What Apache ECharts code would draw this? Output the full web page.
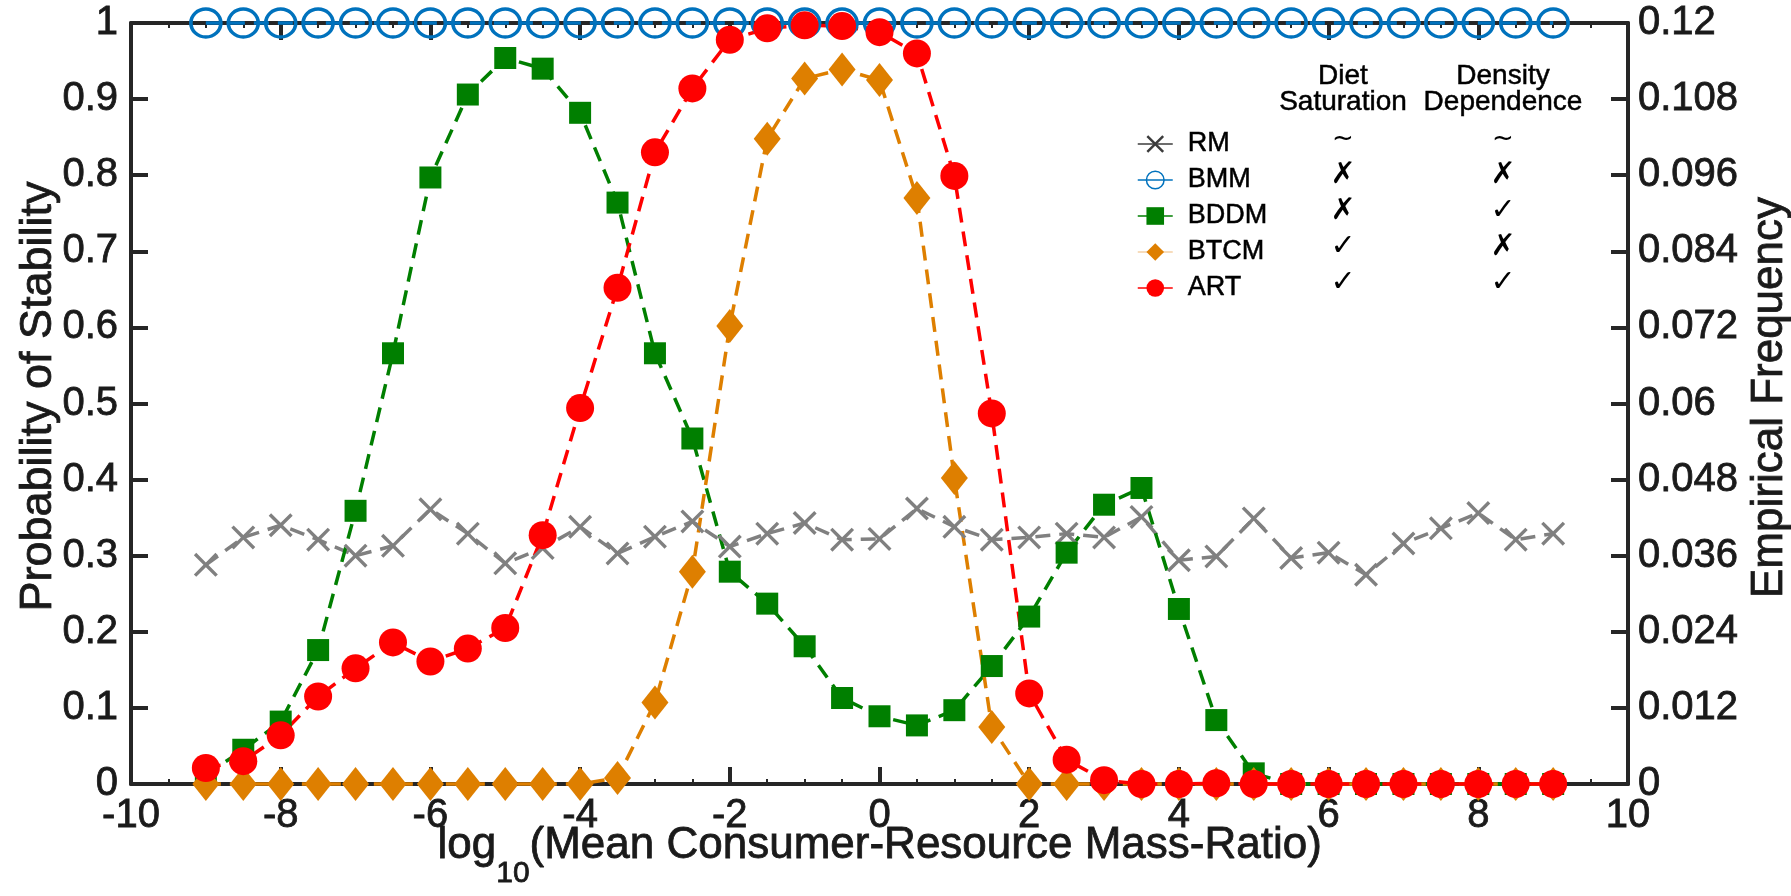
<!DOCTYPE html>
<html>
<head>
<meta charset="utf-8">
<script src="https://cdn.jsdelivr.net/npm/echarts@6/dist/echarts.min.js"></script>
<style>
  html, body { margin: 0; padding: 0; background: #ffffff; }
  #chart { width: 1791px; height: 896px; }
</style>
</head>
<body>
<div id="chart"></div>
<script>
// log10 of mean consumer-resource mass ratio (x positions of every model)
const massRatioLog = [-9, -8.5, -8, -7.5, -7, -6.5, -6, -5.5, -5, -4.5, -4, -3.5, -3, -2.5, -2, -1.5, -1, -0.5,
  0, 0.5, 1, 1.5, 2, 2.5, 3, 3.5, 4, 4.5, 5, 5.5, 6, 6.5, 7, 7.5, 8, 8.5, 9];

// probability of stability per model
const rmStability = [0.288, 0.324, 0.340, 0.321, 0.300, 0.313, 0.361, 0.329, 0.290, 0.310, 0.338, 0.303, 0.325,
  0.345, 0.312, 0.329, 0.343, 0.321, 0.322, 0.362, 0.338, 0.321, 0.324, 0.329, 0.324, 0.351, 0.294, 0.299,
  0.349, 0.297, 0.304, 0.275, 0.316, 0.336, 0.356, 0.321, 0.329];
const bmmStability = [1, 1, 1, 1, 1, 1, 1, 1, 1, 1, 1, 1, 1, 1, 1, 1, 1, 1, 1, 1, 1, 1, 1, 1, 1, 1, 1, 1, 1, 1,
  1, 1, 1, 1, 1, 1, 1];
const bddmStability = [0.012, 0.045, 0.082, 0.176, 0.359, 0.566, 0.797, 0.906, 0.954, 0.940, 0.882, 0.764, 0.566,
  0.454, 0.279, 0.237, 0.181, 0.113, 0.089, 0.077, 0.097, 0.155, 0.220, 0.304, 0.367, 0.389, 0.230, 0.084,
  0.014, 0, 0, 0, 0, 0, 0, 0, 0];
const btcmStability = [0, 0, 0, 0, 0, 0, 0, 0, 0, 0, 0, 0.008, 0.107, 0.279, 0.602, 0.848, 0.927, 0.939, 0.925,
  0.770, 0.402, 0.075, 0, 0, 0, 0, 0, 0, 0, 0, 0, 0, 0, 0, 0, 0, 0];
const artStability = [0.021, 0.030, 0.064, 0.115, 0.152, 0.186, 0.161, 0.178, 0.205, 0.327, 0.494, 0.652, 0.830,
  0.914, 0.978, 0.993, 0.997, 0.996, 0.988, 0.960, 0.799, 0.487, 0.119, 0.032, 0.005, 0, 0, 0.001, 0, 0, 0,
  0, 0, 0, 0, 0, 0];

const modelNames = ['RM', 'BMM', 'BDDM', 'BTCM', 'ART'];
// model properties table shown beside the legend
const tableHeaders = [['Diet', 'Saturation'], ['Density', 'Dependence']];
const dietSaturation = ['~', '\u2717', '\u2717', '\u2713', '\u2713'];
const densityDependence = ['~', '\u2717', '\u2713', '\u2717', '\u2713'];

const FONT = '"Liberation Sans", Arial, Helvetica, sans-serif';
const SYM_FONT = '"DejaVu Sans", sans-serif';
const TEXT_COLOR = '#1a1a1a';
const AXIS_COLOR = '#262626';
const CROSS = 'path://M2,0L10,8L18,0L20,2L12,10L20,18L18,20L10,12L2,20L0,18L8,10L0,2Z';
const DASH = [15, 9];

function pairs(ys) { return massRatioLog.map((x, i) => [x, ys[i]]); }

const chart = echarts.init(document.getElementById('chart'), null, { renderer: 'canvas' });

const baseSeries = {
  type: 'line', xAxisIndex: 0, yAxisIndex: 0, clip: false, animation: false,
  emphasis: { disabled: true }
};

const legendTop = 124, legendRow = 36;

const axisLine = { show: true, onZero: false, lineStyle: { color: AXIS_COLOR, width: 4 } };
const axisTick = { show: true, inside: true, length: 17, lineStyle: { color: AXIS_COLOR, width: 4 } };
const xMinor = { show: true, splitNumber: 4, length: 5, lineStyle: { color: AXIS_COLOR, width: 2 } };
// slightly heavier glyphs for axis text
const heavy = { textBorderColor: TEXT_COLOR, textBorderWidth: 0.8 };
const tickFont = Object.assign({ fontFamily: FONT, fontSize: 40, color: TEXT_COLOR }, heavy);

const option = {
  backgroundColor: '#ffffff',
  animation: false,
  grid: { left: 131, right: 163, top: 23, bottom: 112, outerBoundsMode: 'none' },
  legend: {
    orient: 'vertical', left: 1132, top: legendTop,
    itemWidth: 35, itemHeight: 22, itemGap: legendRow - 30,
    textStyle: {
      fontFamily: FONT, fontSize: 27, color: '#000', lineHeight: 30, padding: [0, 0, 0, 10],
      textBorderColor: '#000', textBorderWidth: 0.5
    },
    lineStyle: { type: 'solid', width: 1.5 },
    selectedMode: false,
    data: [
      { name: 'RM', itemStyle: { color: '#3c3c3c' }, lineStyle: { color: '#3c3c3c' } },
      { name: 'BMM', itemStyle: { borderWidth: 1.5 } },
      { name: 'BDDM' },
      { name: 'BTCM', lineStyle: { color: '#f5d1a6' } },
      { name: 'ART' }
    ]
  },
  xAxis: [
    {
      type: 'value', position: 'bottom', min: -10, max: 10, interval: 2,
      axisLine, axisTick, minorTick: xMinor,
      axisLabel: Object.assign({ margin: 12 }, tickFont),
      splitLine: { show: false },
      // the tiny "g" token only sets the line height so the subscript can sit lower
      name: '{g| }{a|log}{s|10}{a|(Mean Consumer-Resource Mass-Ratio)}',
      nameLocation: 'middle', nameGap: 40, nameMoveOverlap: false,
      nameTextStyle: {
        color: TEXT_COLOR,
        rich: {
          g: { fontSize: 1, lineHeight: 65 },
          a: Object.assign({ fontFamily: FONT, fontSize: 44, lineHeight: 44, verticalAlign: 'top', color: TEXT_COLOR }, heavy),
          s: Object.assign({ fontFamily: FONT, fontSize: 30, lineHeight: 30, verticalAlign: 'bottom', color: TEXT_COLOR }, heavy)
        }
      }
    },
    {
      type: 'value', position: 'top', min: -10, max: 10, interval: 2,
      axisLine, axisTick, minorTick: xMinor,
      axisLabel: { show: false },
      splitLine: { show: false }
    }
  ],
  yAxis: [
    {
      type: 'value', position: 'left', min: 0, max: 1, interval: 0.1,
      axisLine, axisTick,
      axisLabel: Object.assign({ margin: 13 }, tickFont),
      splitLine: { show: false },
      name: 'Probability of Stability', nameLocation: 'middle', nameGap: 70, nameMoveOverlap: false,
      nameTextStyle: Object.assign({ fontFamily: FONT, fontSize: 45, color: TEXT_COLOR, padding: [0, 0, 0, 14] }, heavy)
    },
    {
      type: 'value', position: 'right', min: 0, max: 0.12, interval: 0.012,
      axisLine, axisTick,
      axisLabel: Object.assign({ margin: 10, formatter: v => String(parseFloat(v.toFixed(3))) }, tickFont),
      splitLine: { show: false },
      name: 'Empirical Frequency', nameLocation: 'middle', nameGap: 120, nameMoveOverlap: false,
      nameTextStyle: Object.assign({ fontFamily: FONT, fontSize: 44, color: TEXT_COLOR, padding: [0, 0, 0, 12] }, heavy)
    }
  ],
  series: [
    Object.assign({}, baseSeries, {
      name: 'RM', data: pairs(rmStability), symbol: CROSS, symbolSize: 24,
      itemStyle: { color: '#808080' },
      lineStyle: { color: '#808080', width: 3.5, type: DASH }
    }),
    Object.assign({}, baseSeries, {
      name: 'BMM', data: pairs(bmmStability), symbol: 'circle', symbolSize: [30, 28],
      itemStyle: { color: 'rgba(255,255,255,0)', borderColor: '#0072bd', borderWidth: 3.5 },
      lineStyle: { color: '#0072bd', width: 3.5, type: DASH }
    }),
    Object.assign({}, baseSeries, {
      name: 'BDDM', data: pairs(bddmStability), symbol: 'rect', symbolSize: 22,
      itemStyle: { color: '#007f00' },
      lineStyle: { color: '#007f00', width: 3.5, type: DASH }
    }),
    Object.assign({}, baseSeries, {
      name: 'BTCM', data: pairs(btcmStability), symbol: 'diamond', symbolSize: [27, 34],
      itemStyle: { color: '#de7f00' },
      lineStyle: { color: '#de7f00', width: 3.5, type: DASH }
    }),
    Object.assign({}, baseSeries, {
      name: 'ART', data: pairs(artStability), symbol: 'circle', symbolSize: 28,
      itemStyle: { color: '#ff0000' },
      lineStyle: { color: '#ff0000', width: 3.5, type: DASH }
    })
  ]
};

// property table: two column headers and one symbol per model row
const colX = [1343, 1503];
const tableGraphics = [];
tableHeaders.forEach((lines, c) => {
  lines.forEach((t, k) => {
    tableGraphics.push({
      type: 'text', x: colX[c], y: 76 + k * 26, silent: true,
      style: {
        text: t, font: '28px ' + FONT, fill: '#000', align: 'center', verticalAlign: 'middle',
        stroke: '#000', lineWidth: 0.5
      }
    });
  });
});
[dietSaturation, densityDependence].forEach((col, c) => {
  col.forEach((t, r) => {
    tableGraphics.push({
      type: 'text', x: colX[c], y: legendTop + 15 + r * legendRow, silent: true,
      style: {
        text: t, font: (t === '~' ? '26px ' : 'bold 30px ') + SYM_FONT, fill: '#000',
        align: 'center', verticalAlign: 'middle'
      }
    });
  });
});
option.graphic = tableGraphics;

chart.setOption(option);
</script>
</body>
</html>
